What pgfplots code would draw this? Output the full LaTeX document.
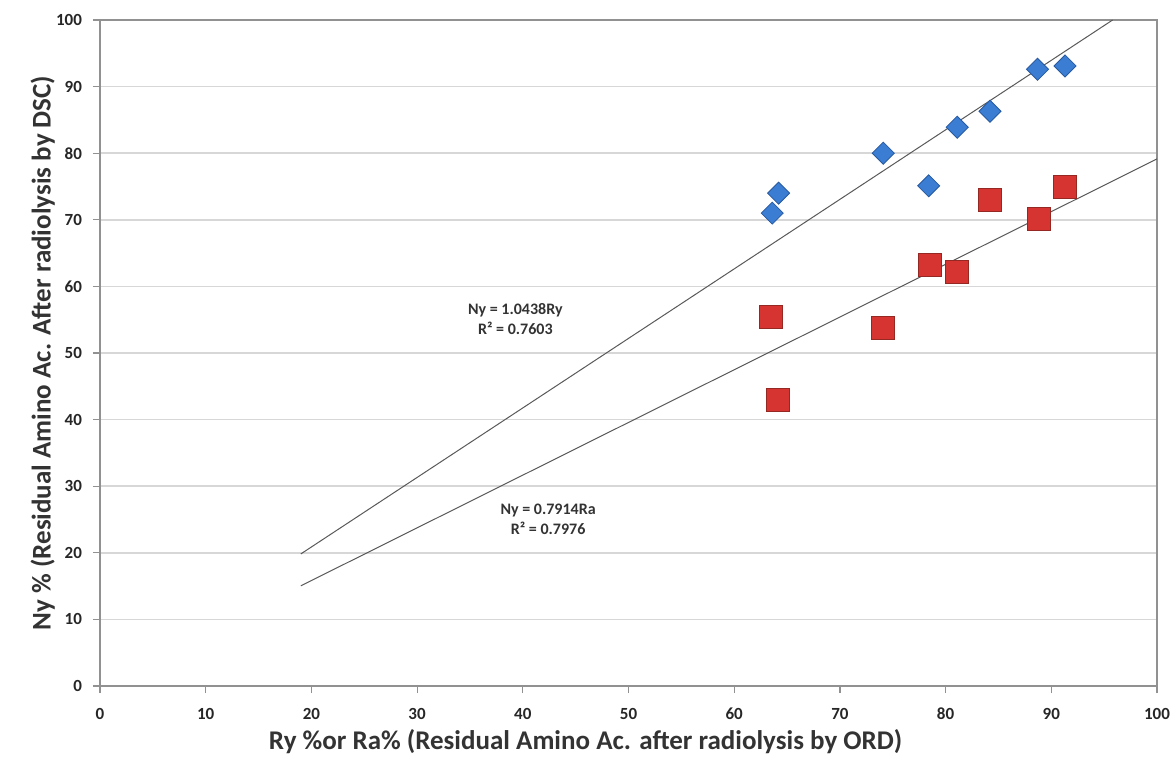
\documentclass[border=0pt]{standalone}
\usepackage{pgfplots}
\pgfplotsset{compat=1.18}
\usepackage{fontspec}
\setmainfont{Carlito}

\definecolor{dblue}{RGB}{58,125,210}
\definecolor{dbluedge}{RGB}{40,90,160}
\definecolor{dred}{RGB}{214,52,48}
\definecolor{drededge}{RGB}{150,40,35}
\definecolor{gridgray}{RGB}{215,215,215}
\definecolor{axgray}{RGB}{145,145,145}

\begin{document}
\begin{tikzpicture}
\useasboundingbox (-50pt,-40pt) rectangle (536.5pt,343pt);
\begin{axis}[
    at={(0,0)}, anchor=south west,
    scale only axis,
    width=528.5pt, height=333pt,
    xmin=0, xmax=100, ymin=0, ymax=100,
    xtick={0,10,...,100}, ytick={0,10,...,100},
    ymajorgrids,
    grid style={gridgray, line width=0.8pt},
    axis line style={axgray, line width=1.1pt},
    tick align=outside,
    major tick length=3.5pt,
    tick style={axgray, line width=0.6pt},
    xtick pos=bottom, ytick pos=left,
    /pgf/number format/assume math mode=true,
    ticklabel style={font=\fontsize{8.5}{10}\selectfont\bfseries, text=black!85},
    xticklabel style={yshift=-4pt},
    yticklabel style={xshift=-2pt},
    xlabel={Ry \%or Ra\% (Residual Amino Ac. after radiolysis by ORD)},
    ylabel={Ny \% (Residual Amino Ac. After radiolysis by DSC)},
    label style={font=\fontsize{13.5}{15}\selectfont\bfseries, text=black!80},
    xlabel style={at={(axis description cs:0.5,0)}, anchor=north, yshift=-18pt, xshift=-21.5pt},
    ylabel style={at={(axis description cs:0,0.5)}, anchor=south, yshift=19pt},
    clip=true,
]
% trendlines (Excel linear fits through origin)
\addplot[black!65, line width=0.5pt] coordinates {(19,19.83) (95.8,100)};
\addplot[black!65, line width=0.5pt] coordinates {(19,15.04) (100,79.14)};

% Ny vs Ry
\addplot[only marks, mark=square*, mark size=3.9pt,
    mark options={rotate=45, fill=dblue, draw=dbluedge, line width=0.4pt}]
table {
x     y
63.6  71.0
64.2  74.0
74.1  80.0
78.4  75.1
81.1  83.9
84.2  86.3
88.7  92.6
91.3  93.1
};

% Ny vs Ra
\addplot[only marks, mark=square*, mark size=5.8pt,
    mark options={fill=dred, draw=drededge, line width=0.4pt}]
table {
x     y
63.5  55.4
64.1  42.9
74.1  53.8
78.5  63.2
81.1  62.2
84.2  73.0
88.8  70.1
91.3  74.9
};

\node[align=center, font=\fontsize{8}{10}\selectfont\bfseries, text=black!80]
    at (axis cs:39.3,55.1) {Ny = 1.0438Ry\\R² = 0.7603};
\node[align=center, font=\fontsize{8}{10}\selectfont\bfseries, text=black!80]
    at (axis cs:42.4,25.1) {Ny = 0.7914Ra\\R² = 0.7976};
\end{axis}
\end{tikzpicture}
\end{document}
